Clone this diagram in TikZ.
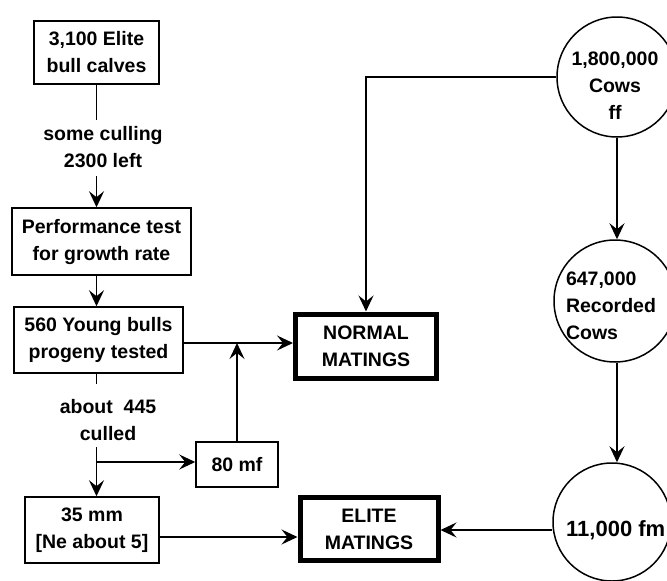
\documentclass[tikz,border=0pt]{standalone}
\usepackage{fontspec}
\setmainfont{Liberation Sans}
\usetikzlibrary{arrows.meta}
\begin{document}
\begin{tikzpicture}[x=1pt,y={(0pt,-1pt)},
  txt/.style={font=\bfseries\fontsize{19.5}{27}\selectfont, align=center, inner sep=0pt},
  box/.style={txt, draw, line width=1.5pt},
  bigbox/.style={txt, draw, line width=5pt},
  ring/.style={txt, draw, circle, line width=1.5pt},
  ln/.style={line width=1.6pt},
  arr/.style={line width=1.6pt, -{Stealth[length=16pt,width=15pt,inset=6pt]}}]
\useasboundingbox (0,0) rectangle (667,581);
\clip (0,0) rectangle (667,581);
% left column
\node[box, minimum width=125, minimum height=63] (b1) at (96.5,52.5) {3,100 Elite\\bull calves};
\node[txt] (cull1) at (103,147) {some culling\\2300 left};
\node[box, minimum width=179, minimum height=67] (b2) at (101.5,241.5) {Performance test\\for growth rate};
\node[box, minimum width=169, minimum height=66] (b3) at (98.5,340) {560 Young bulls\\progeny tested};
\node[txt] (cull2) at (108,420) {about\ \ 445\\culled};
\node[box, minimum width=82, minimum height=45] (mf) at (237,464.5) {80 mf};
\node[box, minimum width=134, minimum height=66] (b4) at (92,530) {35 mm\\{[}Ne about 5{]}};
% matings
\node[bigbox, minimum width=141, minimum height=64] (normal) at (366,346) {NORMAL\\MATINGS};
\node[bigbox, minimum width=138, minimum height=63] (elite) at (369,529) {ELITE\\MATINGS};
% circles
\node[ring, minimum size=120] (c1) at (617,77) {};
\node[txt] (t1) at (615,86) {1,800,000\\Cows\\ff};
\node[ring, minimum size=122] (c2) at (615,301) {};
\node[txt, align=left] (t2) at (611,306) {647,000\\Recorded\\Cows};
\node[ring, minimum size=118] (c3) at (612,522) {};
\node[txt, anchor=west, font=\bfseries\fontsize{22}{26}\selectfont] (t3) at (566,530) {11,000 fm};
% connectors
\coordinate (k1) at (b1.south |- 0,120);
\draw[ln] (b1.south) -- (k1);
\draw[arr] (b1.south |- 0,176) -- (b1.south |- b2.north);
\draw[arr] (b2.south -| b1.south) -- (b1.south |- b3.north);
\draw[ln] (b1.south |- b3.south) -- (b1.south |- 0,384);
\coordinate (j1) at (b1.south |- 0,447);
\draw[arr] (j1) -- (b1.south |- b4.north);
\coordinate (j2) at (b1.south |- 0,462);
\draw[arr] (j2) -- (mf.west |- j2);
\coordinate (h1) at (b3.east |- 0,343);
\draw[arr] (h1) -- (normal.west |- h1);
\draw[arr] (mf.north) -- (mf.north |- h1);
\draw[arr] (c1.west) -| (normal.north);
\draw[arr] (c1.south) -- (c1.south |- c2.north);
\draw[arr] (c2.south -| c1.south) -- (c1.south |- c3.north);
\coordinate (h2) at (b4.east |- 0,537);
\draw[arr] (h2) -- (elite.west |- h2);
\coordinate (h3) at (c3.west |- 0,530);
\draw[arr] (h3) -- (elite.east |- h3);
\end{tikzpicture}
\end{document}
